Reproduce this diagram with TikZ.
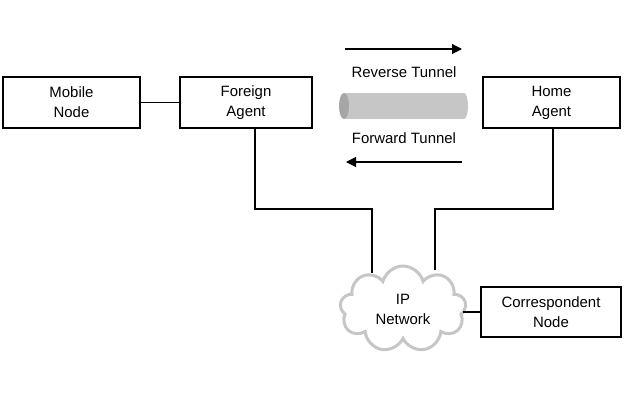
\documentclass[tikz,border=0pt]{standalone}
\usepackage{fontspec}
\setmainfont{Liberation Sans}
\usetikzlibrary{shapes.symbols,arrows.meta}
\begin{document}
\begin{tikzpicture}[x=1bp,y=-1bp,
  box/.style={draw,line width=1.2bp,minimum width=137bp,minimum height=51bp,align=center,font=\fontsize{15}{20}\selectfont},
  lbl/.style={font=\fontsize{15}{18}\selectfont},
  ln/.style={line width=1.2bp}]
\useasboundingbox (0,0) rectangle (633,404);
\node[box] (mn) at (71.5,102.5) {Mobile\\Node};
\node[box,minimum width=132bp] (fa) at (246,102.5) {Foreign\\Agent};
\node[box] (ha) at (551.5,102.5) {Home\\Agent};
\node[box,minimum width=140bp,minimum height=50bp] (cn) at (551,312) {Correspondent\\Node};
\node[cloud,cloud puffs=9,aspect=1.4,draw=gray!45,line width=3bp,fill=white,minimum width=126bp,minimum height=86bp,align=center,font=\fontsize{15}{20}\selectfont] (ip) at (403,309) {IP\\Network};
% tunnel
\fill[gray!45] (344,93) rectangle (464,119);
\fill[gray!45] (464,106) ellipse (4 and 13);
\fill[gray!70] (344,106) ellipse (5 and 13);
\node[lbl] (rt) at (404,72) {Reverse Tunnel};
\node[lbl] (ft) at (404,138) {Forward Tunnel};
\coordinate (a1) at (345,49); \coordinate (a2) at (462,49);
\coordinate (b1) at (462,162); \coordinate (b2) at (346,162);
\draw[ln,-{Triangle[length=10bp,width=10bp]}] (a1) -- (a2);
\draw[ln,-{Triangle[length=10bp,width=10bp]}] (b1) -- (b2);
\draw[ln] (mn.east) -- (fa.west);
\draw[ln] (255,128) -- (255,209) -- (372,209) -- (372,273);
\draw[ln] (553,128) -- (553,209) -- (435,209) -- (435,270);
\draw[ln] (463,312) -- (cn.west);
\end{tikzpicture}
\end{document}
